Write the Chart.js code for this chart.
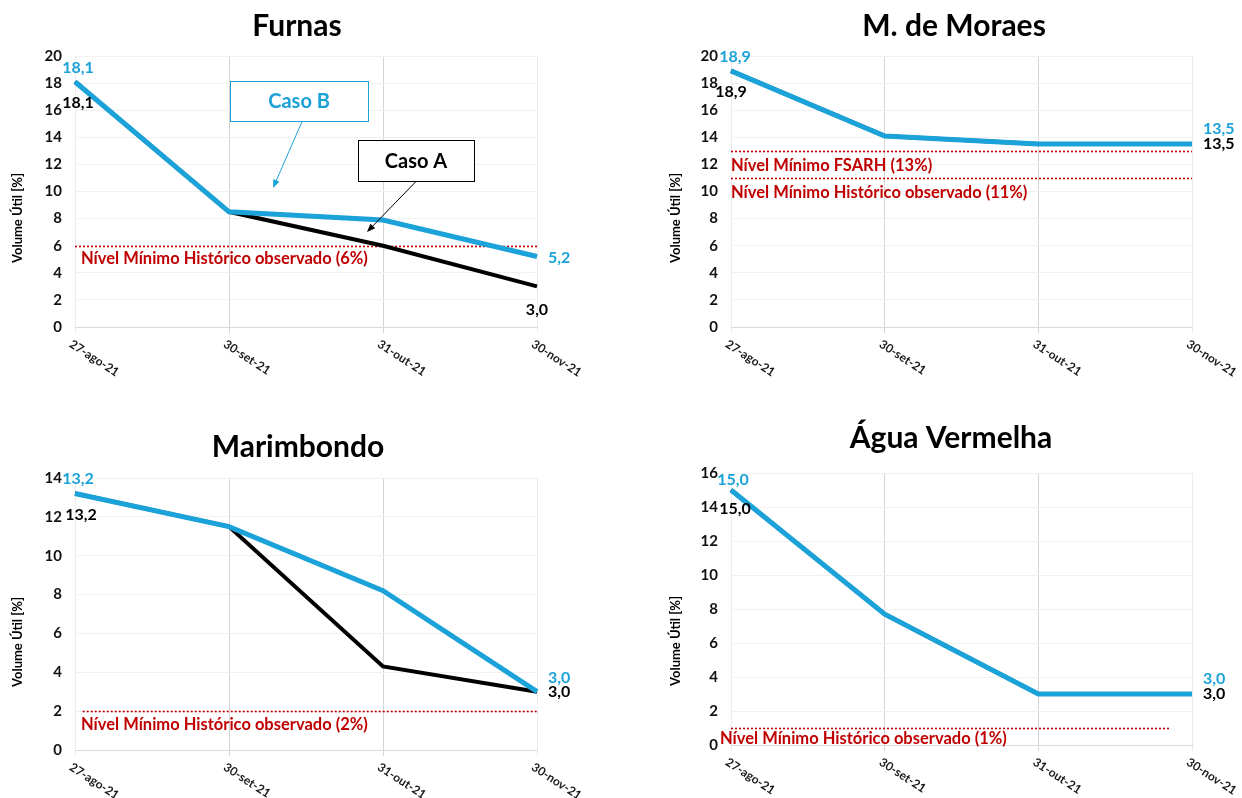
<!DOCTYPE html>
<html>
<head>
<meta charset="utf-8">
<script src="https://cdn.jsdelivr.net/npm/chart.js@4.4.1/dist/chart.umd.min.js"></script>
<style>
  html, body { margin: 0; padding: 0; background: #ffffff; }
  #wrap { position: relative; width: 1242px; height: 798px; overflow: hidden; }
  #wrap canvas { position: absolute; }
</style>
</head>
<body>
<div id="wrap">
  <canvas id="furnas" width="621" height="399" style="left:0px;top:0px"></canvas>
  <canvas id="moraes" width="621" height="399" style="left:621px;top:0px"></canvas>
  <canvas id="marimbondo" width="621" height="399" style="left:0px;top:399px"></canvas>
  <canvas id="agua" width="621" height="399" style="left:621px;top:399px"></canvas>
</div>
<script>
// Reservoir useful volume (%) at the end of each month, two scenarios
const dates = ['27-ago-21', '30-set-21', '31-out-21', '30-nov-21'];

const furnasCasoA = [18.1, 8.5, 6.0, 3.0];
const furnasCasoB = [18.1, 8.5, 7.9, 5.2];
const moraesCasoA = [18.9, 14.1, 13.5, 13.5];
const moraesCasoB = [18.9, 14.1, 13.5, 13.5];
const marimbondoCasoA = [13.2, 11.5, 4.3, 3.0];
const marimbondoCasoB = [13.2, 11.5, 8.2, 3.0];
const aguaCasoA = [15.0, 7.7, 3.0, 3.0];
const aguaCasoB = [15.0, 7.7, 3.0, 3.0];

// Axis upper bounds (ticks every 2 %)
const furnasYMax = 20;
const moraesYMax = 20;
const marimbondoYMax = 14;
const aguaYMax = 16;

// Reference levels (%)
const furnasRefs = [6];
const furnasRefTexts = ['Nível Mínimo Histórico observado (6%)'];
const moraesRefs = [13, 11];
const moraesRefTexts = ['Nível Mínimo FSARH (13%)', 'Nível Mínimo Histórico observado (11%)'];
const marimbondoRefs = [2];
const marimbondoRefTexts = ['Nível Mínimo Histórico observado (2%)'];
const aguaRefs = [1];
const aguaRefTexts = ['Nível Mínimo Histórico observado (1%)'];

const BLUE = '#1ba2d8';
const BLACK = '#000000';
const RED = '#c00000';
const FONT = 'Lato, "Open Sans", sans-serif';

const fmt = v => v.toFixed(1).replace('.', ',');

// Decorations: titles, reference lines, value labels, rotated dates, callouts
const decor = {
  id: 'decor',
  beforeDatasetsDraw(chart, args, o) {
    const { ctx, scales: { x, y } } = chart;
    ctx.save();
    o.refs.forEach((v, i) => {
      const py = Math.round(y.getPixelForValue(v)) + 0.5;
      const x0 = x.getPixelForValue(o.refSpan[0]);
      const x1 = x.getPixelForValue(o.refSpan[1]);
      ctx.strokeStyle = RED;
      ctx.lineWidth = 1.6;
      ctx.setLineDash([2, 2]);
      ctx.beginPath();
      ctx.moveTo(x0, py);
      ctx.lineTo(x1, py);
      ctx.stroke();
      ctx.setLineDash([]);
      ctx.fillStyle = RED;
      ctx.font = 'bold 16.5px ' + FONT;
      ctx.textAlign = 'left';
      ctx.textBaseline = 'middle';
      ctx.fillText(o.refTexts[i], x.getPixelForValue(0) + o.refTextDx, py + o.refTextDy);
    });
    ctx.restore();
  },
  afterDraw(chart, args, o) {
    const { ctx, chartArea: ca, scales: { x, y } } = chart;
    ctx.save();
    // Panel title
    ctx.fillStyle = '#000';
    ctx.font = 'bold 30px ' + FONT;
    ctx.textAlign = 'center';
    ctx.textBaseline = 'middle';
    ctx.fillText(o.title, o.titleAt[0], o.titleAt[1]);
    // Y axis title
    ctx.save();
    ctx.translate(o.yTitleAt[0], o.yTitleAt[1]);
    ctx.rotate(-Math.PI / 2);
    ctx.font = 'bold 13px ' + FONT;
    ctx.fillText('Volume Útil [%]', 0, 0);
    ctx.restore();
    // Rotated date labels
    ctx.font = 'bold 12px ' + FONT;
    ctx.fillStyle = '#1a1a1a';
    ctx.textAlign = 'left';
    ctx.textBaseline = 'top';
    chart.data.labels.forEach((lab, i) => {
      const px = x.getPixelForValue(i);
      ctx.save();
      ctx.translate(px - 1, ca.bottom + 11);
      ctx.rotate(33 * Math.PI / 180);
      ctx.fillText(lab, 0, 0);
      ctx.restore();
    });
    // Value labels at first and last points
    ctx.font = 'bold 16px ' + FONT;
    ctx.textBaseline = 'middle';
    const last = chart.data.labels.length - 1;
    const put = (dsIndex, idx, spec, color) => {
      const v = chart.data.datasets[dsIndex].data[idx];
      const px = x.getPixelForValue(idx);
      const py = y.getPixelForValue(v);
      ctx.fillStyle = color;
      ctx.textAlign = spec[2];
      ctx.fillText(fmt(v), px + spec[0], py + spec[1]);
    };
    put(0, 0, o.lbl.startA, BLACK);
    put(1, 0, o.lbl.startB, BLUE);
    put(0, last, o.lbl.endA, BLACK);
    put(1, last, o.lbl.endB, BLUE);
    // Callout boxes with arrows
    (o.notes || []).forEach(n => {
      const cx = x.getPixelForValue(n.at[0]);
      const cy = y.getPixelForValue(n.at[1]);
      const tx = x.getPixelForValue(n.tip[0]);
      const ty = y.getPixelForValue(n.tip[1]);
      const bx = Math.round(cx - n.w / 2) + 0.5;
      const by = Math.round(cy - n.h / 2) + 0.5;
      ctx.fillStyle = '#fff';
      ctx.fillRect(bx, by, n.w, n.h);
      ctx.strokeStyle = n.color;
      ctx.lineWidth = 1;
      ctx.strokeRect(bx, by, n.w, n.h);
      ctx.fillStyle = n.color;
      ctx.font = 'bold 20px ' + FONT;
      ctx.textAlign = 'center';
      ctx.textBaseline = 'middle';
      ctx.fillText(n.text, cx, cy + 1);
      // arrow
      const sx = cx + n.fromDx, sy = by + n.h;
      const ang = Math.atan2(ty - sy, tx - sx);
      const head = 9;
      const ex = tx - Math.cos(ang) * head * 0.8, ey = ty - Math.sin(ang) * head * 0.8;
      ctx.beginPath();
      ctx.moveTo(sx, sy);
      ctx.lineTo(ex, ey);
      ctx.stroke();
      ctx.beginPath();
      ctx.moveTo(tx, ty);
      ctx.lineTo(tx - head * Math.cos(ang - 0.38), ty - head * Math.sin(ang - 0.38));
      ctx.lineTo(tx - head * Math.cos(ang + 0.38), ty - head * Math.sin(ang + 0.38));
      ctx.closePath();
      ctx.fill();
    });
    ctx.restore();
  }
};

function makePanel(p) {
  const W = 621, H = 399, xH = 8;
  const area = { l: p.area[0] - p.off[0], t: p.area[1] - p.off[1], r: p.area[2] - p.off[0], b: p.area[3] - p.off[1] };
  const rel = pt => [pt[0] - p.off[0], pt[1] - p.off[1]];
  return new Chart(document.getElementById(p.id), {
    type: 'line',
    data: {
      labels: dates,
      datasets: [
        { label: 'Caso A', data: p.a, borderColor: BLACK, borderWidth: 4, pointRadius: 0, tension: 0, order: 2 },
        { label: 'Caso B', data: p.b, borderColor: BLUE, borderWidth: 5, pointRadius: 0, tension: 0, order: 1 }
      ]
    },
    options: {
      responsive: false,
      animation: false,
      layout: { padding: { left: 0, top: area.t, right: W - area.r, bottom: H - area.b - xH } },
      plugins: {
        legend: { display: false },
        tooltip: { enabled: false },
        decor: {
          title: p.title, titleAt: rel(p.titleAt), yTitleAt: rel(p.yTitleAt),
          refs: p.refs, refTexts: p.refTexts, refSpan: p.refSpan, refTextDx: p.refTextDx, refTextDy: p.refTextDy,
          lbl: p.lbl, notes: p.notes
        }
      },
      scales: {
        x: {
          afterFit: s => { s.height = xH; },
          ticks: { display: false },
          grid: {
            color: c => (c.index === 1 || c.index === 2) ? '#d4d4d4' : '#ececec',
            lineWidth: 1, drawTicks: true, tickLength: 6
          },
          border: { display: true, color: '#d9d9d9' }
        },
        y: {
          min: 0, max: p.yMax,
          afterFit: s => { s.width = area.l; },
          ticks: { stepSize: 2, padding: 13, color: '#111', font: { family: FONT, size: 15, weight: 'bold' } },
          grid: { color: '#f1f1f1', drawTicks: false },
          border: { display: false }
        }
      }
    },
    plugins: [decor]
  });
}

makePanel({
  id: 'furnas', off: [0, 0], area: [75, 56, 537, 327],
  title: 'Furnas', titleAt: [297, 26], yTitleAt: [18, 218],
  a: furnasCasoA, b: furnasCasoB, yMax: furnasYMax,
  refs: furnasRefs, refTexts: furnasRefTexts, refSpan: [0, 3], refTextDx: 6, refTextDy: 12,
  lbl: { startB: [3, -14, 'center'], startA: [3, 21, 'center'], endB: [11, 1, 'left'], endA: [0, 23, 'center'] },
  notes: [
    { text: 'Caso B', color: BLUE, at: [1.455, 16.68], w: 138, h: 40, tip: [1.286, 10.26], fromDx: 3 },
    { text: 'Caso A', color: BLACK, at: [2.214, 12.32], w: 116, h: 41, tip: [1.896, 7.01], fromDx: 0 }
  ]
});

makePanel({
  id: 'moraes', off: [621, 0], area: [731, 56, 1192, 327],
  title: 'M. de Moraes', titleAt: [954, 26], yTitleAt: [676, 218],
  a: moraesCasoA, b: moraesCasoB, yMax: moraesYMax,
  refs: moraesRefs, refTexts: moraesRefTexts, refSpan: [0, 3], refTextDx: 0, refTextDy: 14,
  lbl: { startB: [4, -14, 'center'], startA: [0, 21, 'center'], endB: [11, -15, 'left'], endA: [11, 0, 'left'] }
});

makePanel({
  id: 'marimbondo', off: [0, 399], area: [75, 478, 537, 750],
  title: 'Marimbondo', titleAt: [298, 447], yTitleAt: [18, 642],
  a: marimbondoCasoA, b: marimbondoCasoB, yMax: marimbondoYMax,
  refs: marimbondoRefs, refTexts: marimbondoRefTexts, refSpan: [0.05, 3], refTextDx: 6, refTextDy: 13,
  lbl: { startB: [3, -15, 'center'], startA: [6, 21, 'center'], endB: [11, -14, 'left'], endA: [11, 0, 'left'] }
});

makePanel({
  id: 'agua', off: [621, 399], area: [731, 473, 1192, 745],
  title: 'Água Vermelha', titleAt: [951, 438], yTitleAt: [676, 641],
  a: aguaCasoA, b: aguaCasoB, yMax: aguaYMax,
  refs: aguaRefs, refTexts: aguaRefTexts, refSpan: [0, 2.86], refTextDx: -11, refTextDy: 10,
  lbl: { startB: [2, -10, 'center'], startA: [4, 19, 'center'], endB: [11, -15, 'left'], endA: [11, 0, 'left'] }
});
</script>
</body>
</html>
